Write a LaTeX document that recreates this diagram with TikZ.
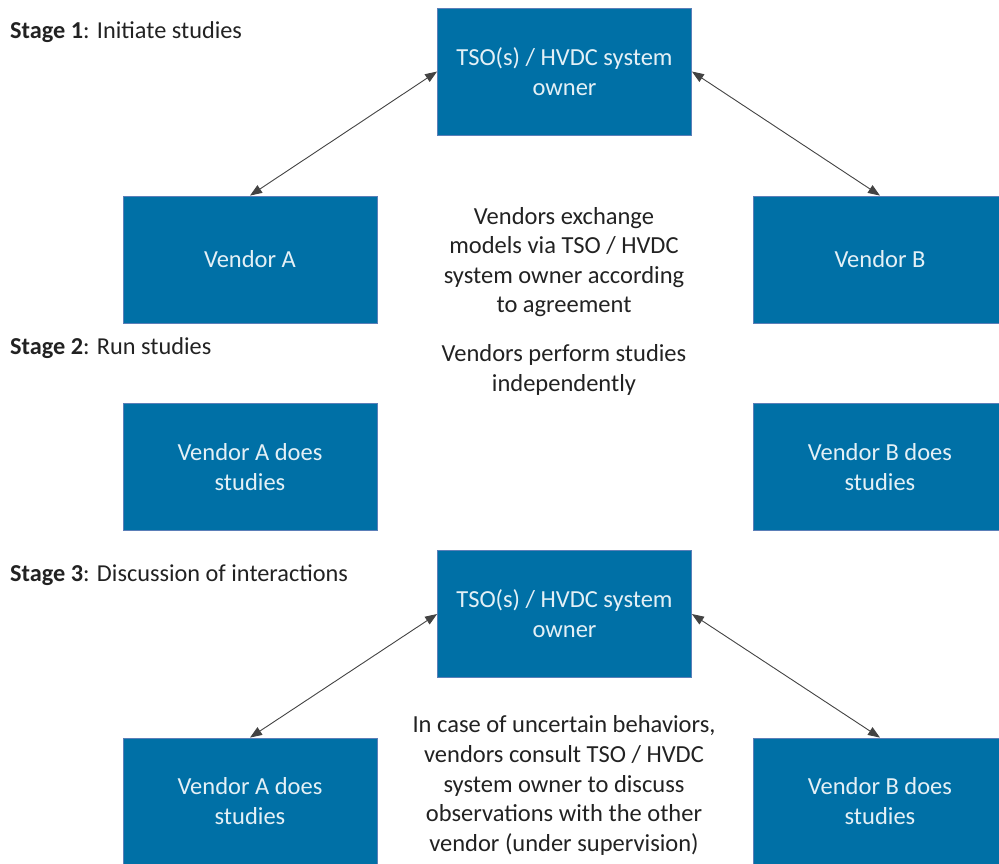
\documentclass[tikz,border=0pt]{standalone}
\usepackage{fontspec}
\setmainfont{Carlito}
\usetikzlibrary{arrows.meta}
\definecolor{boxblue}{HTML}{0070A6}
\definecolor{boxedge}{HTML}{5B7FB8}
\definecolor{boxtext}{HTML}{E4F0F6}
\definecolor{ink}{HTML}{222222}
\tikzset{
  x=1pt, y=-1pt,
  bluebox/.style={draw=boxedge, line width=0.8pt, fill=boxblue, text=boxtext,
    minimum width=254pt, minimum height=127pt, align=center, inner sep=0pt,
    font=\fontsize{24.5}{30}\selectfont},
  note/.style={text=ink, align=center, inner sep=0pt, font=\fontsize{24.5}{29.6}\selectfont},
  stagelabel/.style={text=ink, anchor=west, inner sep=0pt, font=\fontsize{24.3}{28}\selectfont},
  link/.style={draw=ink!85, line width=0.9pt, {Triangle[length=12pt,width=9pt]}-{Triangle[length=12pt,width=9pt]}}
}
\begin{document}
\begin{tikzpicture}
\useasboundingbox (0,0) rectangle (999,863);

% Stage 1
\node[stagelabel] (s1) at (10,32) {\textbf{Stage 1}: Initiate studies};
\node[bluebox] (tso1) at (564.5,71.5) {TSO(s) / HVDC system\\owner};
\node[bluebox] (va1) at (250,259.5) {Vendor A};
\node[bluebox] (vb1) at (880,259.5) {Vendor B};
\node[note] (n1) at (564,262) {Vendors exchange\\models via TSO / HVDC\\system owner according\\to agreement};
\draw[link] (va1.north) -- (tso1.west);
\draw[link] (tso1.east) -- (vb1.north);

% Stage 2
\node[stagelabel] (s2) at (10,348) {\textbf{Stage 2}: Run studies};
\node[note] (n2) at (564,370) {Vendors perform studies\\independently};
\node[bluebox] (va2) at (250,467) {Vendor A does\\studies};
\node[bluebox] (vb2) at (880,467) {Vendor B does\\studies};

% Stage 3
\node[stagelabel] (s3) at (10,575) {\textbf{Stage 3}: Discussion of interactions};
\node[bluebox] (tso3) at (564.5,614) {TSO(s) / HVDC system\\owner};
\node[bluebox] (va3) at (250,801.5) {Vendor A does\\studies};
\node[bluebox] (vb3) at (880,801.5) {Vendor B does\\studies};
\node[note] (n3) at (564,785.5) {In case of uncertain behaviors,\\vendors consult TSO / HVDC\\system owner to discuss\\observations with the other\\vendor (under supervision)};
\draw[link] (va3.north) -- (tso3.west);
\draw[link] (tso3.east) -- (vb3.north);
\end{tikzpicture}
\end{document}
